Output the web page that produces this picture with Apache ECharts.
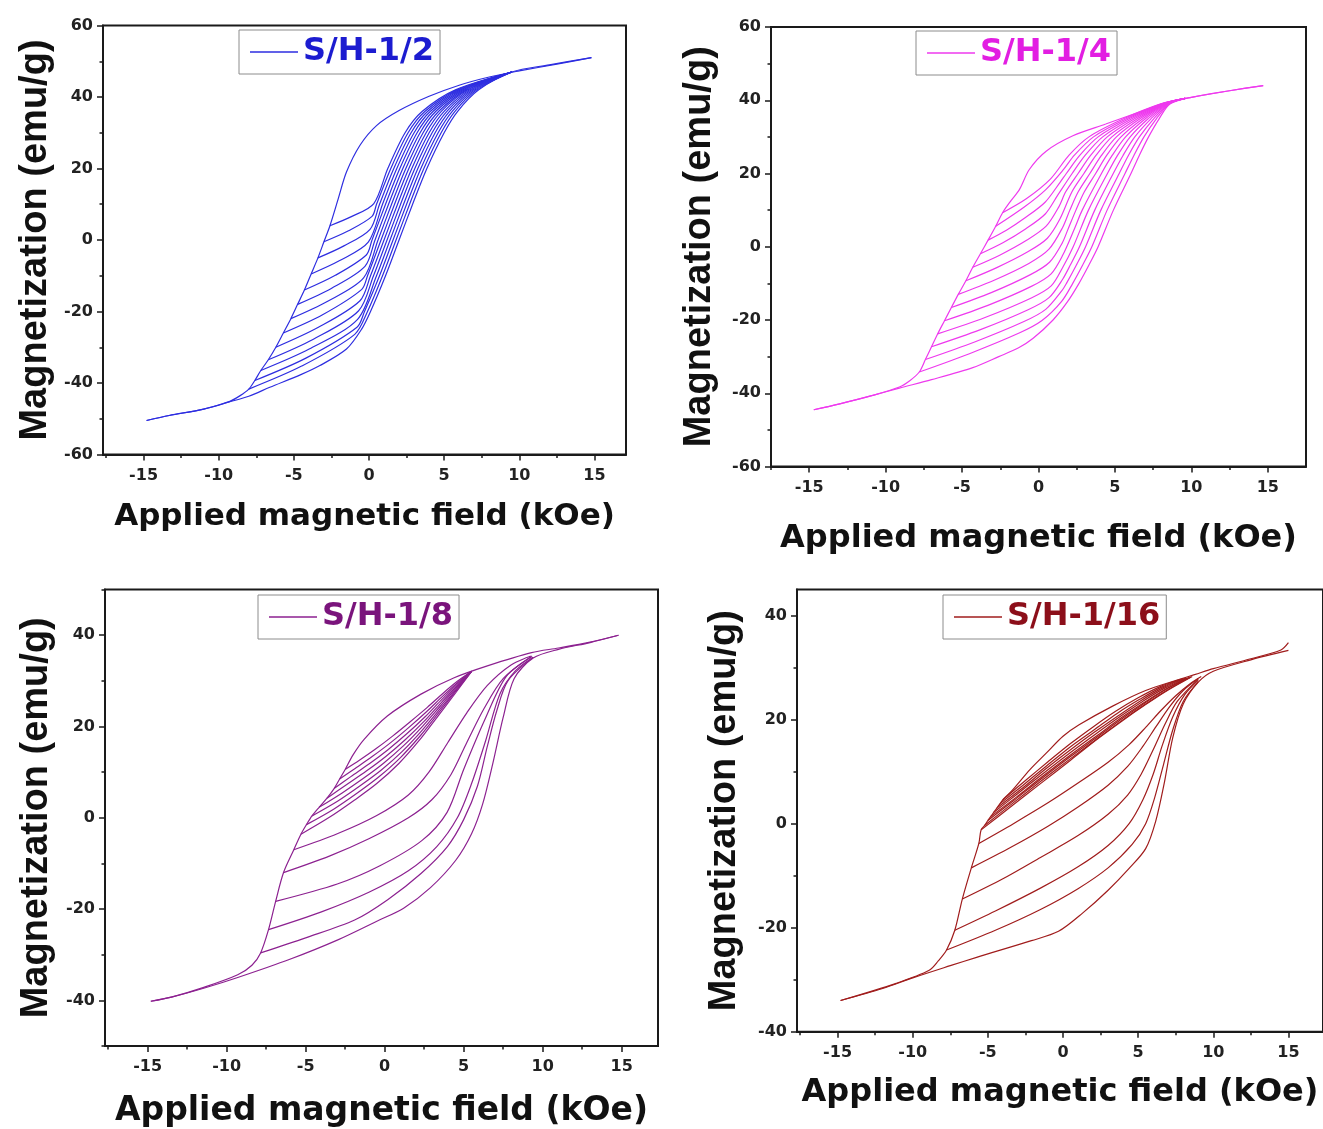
<!DOCTYPE html>
<html>
<head>
<meta charset="utf-8">
<script src="https://cdn.jsdelivr.net/npm/echarts@6/dist/echarts.min.js"></script>
<style>html,body{margin:0;padding:0;background:#fff}#c{width:1323px;height:1129px}</style>
</head>
<body>
<div id="c"></div>
<script>
// ---------- tick values ----------
const xMajorTicks = [-15, -10, -5, 0, 5, 10, 15];
const xMinorTicks = [-17.5, -12.5, -7.5, -2.5, 2.5, 7.5, 12.5];
const yMajorTicks60 = [-60, -40, -20, 0, 20, 40, 60];
const yMinorTicks60 = [-50, -30, -10, 10, 30, 50];
const yMajorTicks50 = [-40, -20, 0, 20, 40];
const yMinorTicks50 = [-50, -30, -10, 10, 30, 50];
const yMajorTicks45 = [-40, -20, 0, 20, 40];
const yMinorTicks45 = [-30, -10, 10, 30];

// ---------- legend labels ----------
const sampleNames = ['S/H-1/2', 'S/H-1/4', 'S/H-1/8', 'S/H-1/16'];

// ---------- panel 1 (S/H-1/2) ----------
const p1Desc = [[14.8,51],[12.5,49.2],[10,47.3],[8,45.6],[6,43.3],[4,40.2],[2,36.2],[0.5,32],[-0.6,26.5],[-1.5,19],[-2.05,11.5],[-2.6,4],[-3.0,-0.5],[-3.4,-5],[-3.85,-9.5],[-4.3,-14],[-4.75,-18],[-5.2,-22],[-5.7,-26],[-6.2,-30],[-6.7,-33.5],[-7.2,-36.5],[-7.6,-39.3],[-8.0,-41.7],[-8.6,-43.6],[-9.3,-45.2],[-11,-47.3],[-13.3,-49.1],[-14.8,-50.5]];
const p1Asc = [[-14.8,-50.5],[-13.3,-49.1],[-11,-47.3],[-9.3,-45.3],[-8,-43.7],[-6.6,-41.2],[-4.5,-37.6],[-3.3,-35.2],[-1.5,-30.5],[-0.5,-25],[0.1,-20],[1.1,-10],[2.0,0],[2.9,10],[3.85,20],[5.0,30],[5.9,36],[7.3,42],[9.5,47],[12,49],[14.8,51]];
const p1Rev = [
  [[-2.6,4],[-1.14,6.6],[0.32,10.2],[1.25,20],[2.4,30],[3.55,36],[5.75,42],[9.5,47]],
  [[-3.0,-0.5],[-1.4,2.5],[0.2,6.6],[0.5,10],[1.45,20],[2.6,30],[3.73,36],[5.87,42],[9.5,47]],
  [[-3.4,-5],[-1.67,-1.64],[0.07,3.0],[0.7,10],[1.65,20],[2.8,30],[3.91,36],[5.99,42],[9.5,47]],
  [[-3.85,-9.5],[-1.95,-5.76],[-0.05,-0.6],[0.9,10],[1.85,20],[3.0,30],[4.09,36],[6.11,42],[9.5,47]],
  [[-4.3,-14],[-2.24,-9.88],[-0.18,-4.2],[0.2,0],[1.1,10],[2.05,20],[3.2,30],[4.27,36],[6.23,42],[9.5,47]],
  [[-4.75,-18],[-2.51,-13.55],[-0.27,-7.4],[0.4,0],[1.3,10],[2.25,20],[3.4,30],[4.45,36],[6.35,42],[9.5,47]],
  [[-5.2,-22],[-2.78,-17.2],[-0.36,-10.6],[0.6,0],[1.5,10],[2.45,20],[3.6,30],[4.64,36],[6.47,42],[9.5,47]],
  [[-5.7,-26],[-3.09,-20.9],[-0.48,-13.8],[-0.1,-10],[0.8,0],[1.7,10],[2.65,20],[3.8,30],[4.81,36],[6.58,42],[9.5,47]],
  [[-6.2,-30],[-3.4,-24.5],[-0.6,-17],[0.1,-10],[1.0,0],[1.9,10],[2.85,20],[4.0,30],[5.0,36],[6.7,42],[9.5,47]],
  [[-6.7,-33.5],[-3.7,-27.75],[-0.69,-19.8],[0.3,-10],[1.2,0],[2.1,10],[3.05,20],[4.2,30],[5.18,36],[6.82,42],[9.5,47]],
  [[-7.2,-36.5],[-3.98,-30.5],[-0.76,-22.2],[0.5,-10],[1.4,0],[2.3,10],[3.25,20],[4.4,30],[5.36,36],[6.94,42],[9.5,47]],
  [[-7.6,-39.3],[-4.2,-33.04],[-0.8,-24.4],[-0.3,-20],[0.7,-10],[1.6,0],[2.5,10],[3.45,20],[4.6,30],[5.54,36],[7.06,42],[9.5,47]],
  [[-8.0,-41.7],[-4.48,-35.27],[-0.95,-26.4],[-0.1,-20],[0.9,-10],[1.8,0],[2.7,10],[3.65,20],[4.8,30],[5.72,36],[7.18,42],[9.5,47]]
];

// ---------- panel 2 (S/H-1/4) ----------
const p2Desc = [[14.7,44],[12.5,42.6],[10,40.8],[8.5,39.5],[6.6,36.8],[4.4,33.5],[2.25,30.3],[0.5,26.1],[-0.6,21.1],[-1.25,15.6],[-1.8,12.6],[-2.35,9.3],[-2.8,5.6],[-3.3,1.8],[-3.8,-1.9],[-4.3,-5.6],[-4.75,-9.3],[-5.25,-13],[-5.7,-16.6],[-6.15,-20.2],[-6.6,-23.8],[-7.0,-27.3],[-7.4,-30.8],[-7.8,-34.2],[-8.4,-36.5],[-9.1,-38.3],[-10.85,-40.6],[-13,-42.9],[-14.7,-44.5]];
const p2Asc = [[-14.7,-44.5],[-13,-42.9],[-10.85,-40.6],[-9.1,-38.6],[-7,-36.3],[-4.3,-33],[-2.6,-30],[-1.3,-27.6],[-0.35,-25],[0.95,-20],[1.9,-15],[2.65,-10],[3.3,-5],[3.9,0],[4.9,10],[6.05,20],[6.6,25],[7.2,30],[7.9,35],[8.6,39],[10,40.8],[12.5,42.6],[14.7,44]];
const p2Rev = [
  [[-2.35,9.3],[-0.8,13.1],[0.76,18.4],[2.0,25],[3.3,30],[5.6,35],[8.0,39],[9.6,40.5]],
  [[-2.8,5.6],[-0.93,10.87],[0.46,15.54],[1.64,21.1],[2.35,25],[3.6,30],[5.78,35],[8.05,39],[9.6,40.5]],
  [[-3.3,1.8],[-2.1,4.5],[-0.9,7.83],[0.43,12.16],[1.41,17.6],[1.82,20],[2.71,25],[3.9,30],[5.95,35],[8.09,39],[9.6,40.5]],
  [[-3.8,-1.9],[-2.33,1.1],[-0.85,4.86],[0.44,8.94],[1.29,14.3],[2.2,20],[3.06,25],[4.2,30],[6.13,35],[8.14,39],[9.6,40.5]],
  [[-4.3,-5.6],[-2.54,-2.3],[-0.78,1.76],[0.5,5.62],[1.33,10.9],[1.78,15],[2.59,20],[3.42,25],[4.5,30],[6.31,35],[8.18,39],[9.6,40.5]],
  [[-4.75,-9.3],[-2.73,-5.7],[-0.7,-1.38],[0.58,2.33],[1.4,7.56],[2.19,15],[2.97,20],[3.77,25],[4.8,30],[6.49,35],[8.23,39],[9.6,40.5]],
  [[-5.25,-13],[-2.94,-9.2],[-0.63,-4.55],[0.67,-0.74],[1.57,5.2],[2.05,10],[2.6,15],[3.36,20],[4.13,25],[5.1,30],[6.66,35],[8.28,39],[9.6,40.5]],
  [[-5.7,-16.6],[-3.13,-12.6],[-0.56,-7.68],[0.72,-4.22],[1.54,0.93],[1.95,5],[2.45,10],[3.0,15],[3.74,20],[4.47,25],[5.4,30],[6.84,35],[8.32,39],[9.6,40.5]],
  [[-6.15,-20.2],[-3.31,-16.0],[-0.47,-10.82],[0.81,-7.46],[1.58,-2.34],[2.36,5],[2.86,10],[4.12,20],[4.83,25],[5.7,30],[7.01,35],[8.37,39],[9.6,40.5]],
  [[-6.6,-23.8],[-3.54,-19.4],[-0.47,-14.0],[0.83,-10.7],[1.59,-5.6],[2.27,0],[3.27,10],[4.51,20],[5.18,25],[6.0,30],[7.19,35],[8.42,39],[9.6,40.5]],
  [[-7.0,-27.3],[-3.84,-22.7],[-0.68,-17.2],[0.69,-13.9],[1.59,-8.8],[2.08,-5],[2.68,0],[3.68,10],[4.89,20],[5.54,25],[6.3,30],[7.37,35],[8.46,39],[9.6,40.5]],
  [[-7.4,-30.8],[-4.18,-26.0],[-0.95,-20.42],[0.47,-17.1],[1.53,-12],[1.83,-10],[2.48,-5],[3.08,0],[4.08,10],[5.28,20],[5.89,25],[6.6,30],[7.55,35],[8.51,39],[9.6,40.5]],
  [[-7.8,-34.2],[-4.52,-29.2],[-1.23,-23.5],[0.23,-20.15],[1.5,-15],[2.24,-10],[2.89,-5],[3.49,0],[4.49,10],[5.66,20],[6.25,25],[6.9,30],[7.72,35],[8.55,39],[9.6,40.5]]
];

// ---------- panel 3 (S/H-1/8) ----------
const p3Desc = [[14.8,40],[13,38.5],[11,37.2],[9.3,36.2],[6.5,33.3],[4.4,30.7],[2.3,27.1],[0.17,22.3],[-1.3,17.2],[-2.0,13.8],[-2.5,10.6],[-2.85,8.5],[-3.2,6.4],[-3.65,4.3],[-4.15,2.3],[-4.6,0.4],[-4.95,-1.5],[-5.3,-3.6],[-5.75,-7.0],[-6.4,-12.0],[-6.9,-18.3],[-7.35,-24.5],[-7.85,-29.6],[-8.4,-32.3],[-9.3,-34.4],[-11.4,-37.1],[-13.5,-39.3],[-14.8,-40.2]];
const p3Asc = [[-14.8,-40.2],[-13.5,-39.3],[-11.4,-37.3],[-9.3,-35],[-6,-31],[-3,-26.8],[-0.4,-22.5],[1.2,-19.8],[2.9,-15.3],[4.5,-9.3],[5.5,-3.5],[6.2,3],[6.85,12],[7.5,22],[8.2,30.5],[9.4,35],[11,36.9],[13,38.4],[14.8,40]];
const p3Rev = [
  [[-2.5,10.6],[-1.6,12.6],[-0.6,15.0],[0.5,17.9],[1.6,21.0],[2.7,24.2],[3.7,27.3],[4.6,29.9],[5.5,32.1]],
  [[-2.85,8.5],[-1.87,10.81],[-0.79,13.41],[0.36,16.41],[1.5,19.7],[2.63,23.17],[3.66,26.6],[4.59,29.54],[5.5,32.1]],
  [[-3.2,6.4],[-2.14,9.02],[-0.97,11.83],[0.21,14.93],[1.4,18.4],[2.56,22.14],[3.61,25.9],[4.57,29.19],[5.5,32.1]],
  [[-3.65,4.3],[-2.42,7.24],[-1.16,10.24],[0.07,13.44],[1.3,17.1],[2.49,21.11],[3.57,25.2],[4.56,28.83],[5.5,32.1]],
  [[-4.15,2.3],[-2.69,5.46],[-1.34,8.66],[-0.07,11.96],[1.2,15.8],[2.41,20.09],[3.53,24.5],[4.54,28.47],[5.5,32.1]],
  [[-4.6,0.4],[-2.96,3.68],[-1.53,7.07],[-0.21,10.47],[1.1,14.5],[2.34,19.06],[3.49,23.8],[4.53,28.11],[5.5,32.1]],
  [[-4.95,-1.5],[-3.23,1.89],[-1.71,5.49],[-0.36,8.99],[1.0,13.2],[2.27,18.03],[3.44,23.1],[4.51,27.76],[5.5,32.1]],
  [[-5.3,-3.6],[-3.5,0.1],[-1.9,3.9],[-0.5,7.5],[0.9,11.9],[2.2,17.0],[3.4,22.4],[4.5,27.4],[5.5,32.1]],
  [[-5.75,-7.0],[-3,-3.5],[-0.5,0.5],[1.5,5],[2.8,10],[4,16.5],[5.2,23],[6.5,29],[8,33.5],[9.3,35.5]],
  [[-6.4,-12],[-3.5,-8.4],[-1,-4.6],[1.5,0],[3,4],[4.2,9.5],[5.2,16.5],[6.3,24],[7.5,30.5],[9.3,35.4]],
  [[-6.9,-18.3],[-3.0,-14.5],[-0.3,-10.5],[2.35,-5],[3.95,1.2],[5.0,10.6],[6.35,21.6],[7.7,31],[9.3,35.3]],
  [[-7.35,-24.5],[-4,-20.6],[-1,-16.3],[1.5,-11.6],[3.3,-6.3],[4.6,0],[5.5,7.5],[6.4,17],[7.3,27.2],[8.3,32.3],[9.4,35.2]],
  [[-7.85,-29.6],[-5,-26.3],[-1.9,-22.4],[0.17,-18],[2.3,-12.2],[3.97,-6.3],[5.0,-0.4],[5.87,6.9],[6.5,15.7],[7.1,23.5],[7.8,30],[9.4,35.2]]
];

// ---------- panel 4 (S/H-1/16) ----------
const p4Desc = [[15,34.8],[14.5,33.4],[12.5,31.7],[10,29.8],[8.8,28.7],[7.7,27.7],[5.5,25.6],[3.3,22.6],[1.07,19.0],[0,16.8],[-1.1,13.6],[-2.2,10.4],[-3.35,6.5],[-4.0,4.6],[-4.2,3.8],[-4.4,3.0],[-4.6,2.2],[-4.8,1.4],[-5.0,0.6],[-5.2,-0.3],[-5.45,-1.2],[-5.6,-3.8],[-6.1,-8.5],[-6.7,-14.5],[-7.2,-20.5],[-7.75,-24.3],[-8.3,-26.4],[-8.9,-28.2],[-11.1,-30.7],[-14.8,-34]];
const p4Asc = [[-14.8,-34],[-12,-31.7],[-9.95,-29.6],[-7.5,-27.3],[-5.75,-25.7],[-2.1,-22.5],[-0.3,-20.7],[1.3,-17.2],[3,-12.8],[4.4,-8.6],[5.5,-4.8],[6.17,0.5],[6.75,8],[7.3,16.5],[8,23],[9,27.2],[10,29.3],[12.5,31.5],[15,33.3]];
const p4Rev = [
  [[-4.0,4.6],[-2.5,8.3],[-1,11.9],[0.5,15.4],[2,18.6],[3.5,21.6],[5,24.2],[6.5,26.4],[8,27.9]],
  [[-4.2,3.8],[-2.7,7.3],[-1.1,11.1],[0.5,14.8],[2.1,18.1],[3.6,21.2],[5.1,23.9],[6.6,26.3],[8.1,27.9]],
  [[-4.4,3.0],[-2.8,6.6],[-1.2,10.4],[0.5,14.2],[2.1,17.6],[3.7,20.8],[5.2,23.7],[6.7,26.2],[8.2,28.0]],
  [[-4.6,2.2],[-3.0,5.8],[-1.3,9.7],[0.5,13.7],[2.2,17.3],[3.8,20.6],[5.3,23.5],[6.8,26.1],[8.3,28.0]],
  [[-4.8,1.4],[-3.1,5.1],[-1.4,9.0],[0.5,13.2],[2.3,17.0],[3.9,20.4],[5.4,23.3],[6.9,26.0],[8.4,28.1]],
  [[-5.0,0.6],[-3.3,4.4],[-1.5,8.5],[0.5,12.9],[2.3,16.7],[3.9,20.1],[5.4,23.1],[6.9,25.9],[8.5,28.2]],
  [[-5.2,-0.3],[-3.4,3.8],[-1.5,8.1],[0.5,12.5],[2.4,16.6],[4.0,20.0],[5.5,23.0],[7.0,25.8],[8.5,28.2]],
  [[-5.45,-1.2],[-3.5,3.2],[-1.5,7.7],[0.5,12.2],[2.4,16.5],[4.0,19.9],[5.5,22.9],[7.0,25.7],[8.6,28.3]],
  [[-5.6,-3.8],[-3.3,0],[-1,4],[1,7.8],[3,11.8],[4.4,15.2],[5.5,18.5],[6.5,21.7],[7.5,24.6],[8.5,27],[9.2,28.3]],
  [[-6.1,-8.5],[-3.5,-4.6],[-1,-0.5],[1,3.2],[3,7.4],[4.3,11],[5.3,14.8],[6.2,18.7],[7.1,22.5],[8,25.6],[9,27.9]],
  [[-6.7,-14.5],[-4,-10.6],[-1.5,-6.5],[1,-2.3],[3,1.8],[4.3,5.5],[5.2,9.5],[6,14.2],[6.8,19.2],[7.6,23.5],[9,27.8]],
  [[-7.2,-20.5],[-4.5,-16.8],[-1.5,-12.4],[1,-8.3],[3,-4.2],[4.4,0],[5.3,4.5],[6,9.5],[6.6,15],[7.3,20.5],[8.1,24.8],[9,27.6]],
  [[-7.75,-24.3],[-4.5,-20.5],[-1.5,-16.5],[1,-12.5],[3,-8.5],[4.6,-4],[5.5,0],[6.1,5],[6.7,11.5],[7.3,18],[8,23.5],[9,27.3]]
];

// ---------- layout / style (no data here) ----------
const panels = [
  {name: sampleNames[0], desc: p1Desc, asc: p1Asc, rev: p1Rev, line: '#2d2de0', text: '#1c1cd0',
   left: 103, top: 25.5, width: 523, height: 429, xMin: -17.7, xMax: 17.1, yMin: -60, yMax: 60,
   yMajor: yMajorTicks60, yMinor: yMinorTicks60, legendLeft: 239, legendTop: 30,
   xNameGap: 47, xNameSize: 31, yNameGap: 48},
  {name: sampleNames[1], desc: p2Desc, asc: p2Asc, rev: p2Rev, line: '#ee3aee', text: '#e21ee2',
   left: 771, top: 27, width: 535, height: 439.5, xMin: -17.5, xMax: 17.5, yMin: -60, yMax: 60,
   yMajor: yMajorTicks60, yMinor: yMinorTicks60, legendLeft: 916, legendTop: 31,
   xNameGap: 56, xNameSize: 32, yNameGap: 52},
  {name: sampleNames[2], desc: p3Desc, asc: p3Asc, rev: p3Rev, line: '#8c2190', text: '#7a147c',
   left: 105, top: 589.6, width: 553, height: 456.4, xMin: -17.7, xMax: 17.3, yMin: -50, yMax: 50,
   yMajor: yMajorTicks50, yMinor: yMinorTicks50, legendLeft: 258, legendTop: 595,
   xNameGap: 49, xNameSize: 33, yNameGap: 49},
  {name: sampleNames[3], desc: p4Desc, asc: p4Asc, rev: p4Rev, line: '#a01c1c', text: '#8c0f1a',
   left: 797, top: 589.6, width: 528, height: 442.1, xMin: -17.7, xMax: 17.3, yMin: -40, yMax: 45,
   yMajor: yMajorTicks45, yMinor: yMinorTicks45, legendLeft: 943, legendTop: 595,
   xNameGap: 45, xNameSize: 32, yNameGap: 53}
];

const AX = '#1a1a1a';
const option = {
  animation: false,
  backgroundColor: '#ffffff',
  grid: [], xAxis: [], yAxis: [], legend: [], series: []
};

panels.forEach((p, i) => {
  option.grid.push({left: p.left, top: p.top, width: p.width, height: p.height,
    show: true, borderColor: AX, borderWidth: 2, backgroundColor: 'transparent'});
  const xi = option.xAxis.length, yi = option.yAxis.length;
  option.xAxis.push({
    type: 'value', gridIndex: i, position: 'bottom', min: p.xMin, max: p.xMax,
    axisLine: {show: true, onZero: false, lineStyle: {color: AX, width: 2}},
    axisTick: {show: true, customValues: xMajorTicks, length: 6, lineStyle: {color: AX, width: 1.5}},
    axisLabel: {show: true, customValues: xMajorTicks, margin: 13, fontFamily: 'DejaVu Sans',
      fontWeight: 'bold', fontSize: 16, color: '#222'},
    splitLine: {show: false},
    name: 'Applied magnetic field (kOe)', nameLocation: 'middle', nameGap: p.xNameGap,
    nameTextStyle: {fontFamily: 'DejaVu Sans', fontWeight: 'bold', fontSize: p.xNameSize, color: '#111'}
  });
  option.xAxis.push({
    type: 'value', gridIndex: i, position: 'bottom', min: p.xMin, max: p.xMax,
    axisLine: {show: false, onZero: false},
    axisTick: {show: true, customValues: xMinorTicks, length: 3.5, lineStyle: {color: AX, width: 1.5}},
    axisLabel: {show: false}, splitLine: {show: false}
  });
  option.yAxis.push({
    type: 'value', gridIndex: i, position: 'left', min: p.yMin, max: p.yMax,
    axisLine: {show: true, onZero: false, lineStyle: {color: AX, width: 2}},
    axisTick: {show: true, customValues: p.yMajor, length: 6, lineStyle: {color: AX, width: 1.5}},
    axisLabel: {show: true, customValues: p.yMajor, margin: 10, fontFamily: 'DejaVu Sans',
      fontWeight: 'bold', fontSize: 16, color: '#222'},
    splitLine: {show: false},
    name: 'Magnetization (emu/g)', nameLocation: 'middle', nameGap: p.yNameGap,
    nameTextStyle: {fontFamily: 'Liberation Sans', fontWeight: 'bold', fontSize: 38, color: '#111'}
  });
  option.yAxis.push({
    type: 'value', gridIndex: i, position: 'left', min: p.yMin, max: p.yMax,
    axisLine: {show: false, onZero: false},
    axisTick: {show: true, customValues: p.yMinor, length: 3.5, lineStyle: {color: AX, width: 1.5}},
    axisLabel: {show: false}, splitLine: {show: false}
  });
  option.legend.push({
    left: p.legendLeft, top: p.legendTop, orient: 'horizontal', selectedMode: false,
    data: [{name: p.name, icon: 'rect', textStyle: {color: p.text}}],
    itemWidth: 48, itemHeight: 1.5, padding: [6, 6, 6, 11],
    borderColor: '#8c8c8c', borderWidth: 1, backgroundColor: '#fff',
    itemStyle: {color: p.line},
    textStyle: {fontFamily: 'DejaVu Sans', fontWeight: 'bold', fontSize: 32, color: p.text}
  });
  const base = {type: 'line', xAxisIndex: xi, yAxisIndex: yi, showSymbol: false, symbol: 'none',
    smooth: 0.3, silent: true, lineStyle: {color: p.line, width: 1.2},
    itemStyle: {color: p.line}};
  option.series.push(Object.assign({}, base, {name: p.name, data: p.desc}));
  option.series.push(Object.assign({}, base, {name: p.name + ' asc', data: p.asc}));
  p.rev.forEach((c, k) => option.series.push(Object.assign({}, base, {name: p.name + ' r' + k, data: c})));
});

const chart = echarts.init(document.getElementById('c'), null, {renderer: 'canvas'});
chart.setOption(option);
</script>
</body>
</html>
